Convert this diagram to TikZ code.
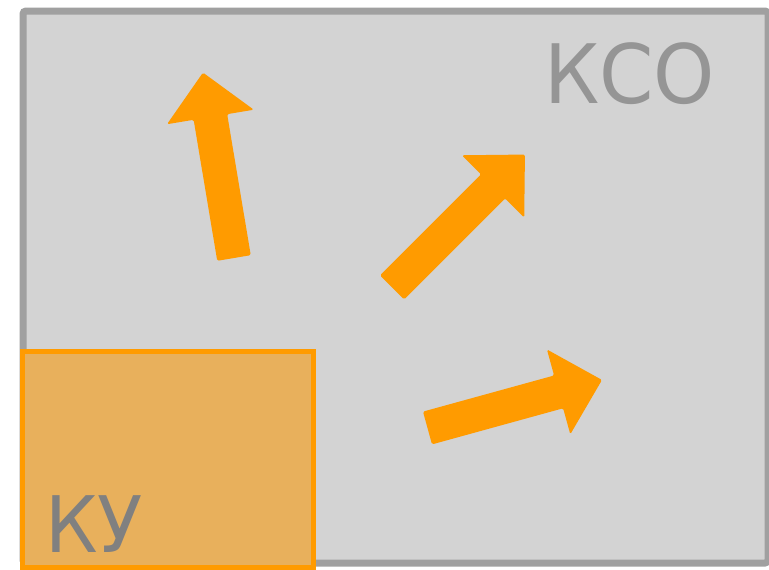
\documentclass[tikz,border=0pt]{standalone}
\usepackage{fontspec}
\newfontfamily\labelfont[FakeStretch=0.95]{DejaVu Sans}
\usetikzlibrary{positioning}
\definecolor{regionfill}{HTML}{D3D3D3}
\definecolor{regionline}{HTML}{A0A0A0}
\definecolor{labelgray}{HTML}{959595}
\definecolor{orangearrow}{HTML}{FF9B00}
\definecolor{kufill}{HTML}{E8B05C}

\begin{document}
\begin{tikzpicture}[%
        x=1pt, y=-1pt,
        region/.style={%
          draw=regionline,
          fill=regionfill,
          line width=7pt,
          rounded corners=3pt,
          inner sep=0pt,
          anchor=north west
        },
        subregion/.style={%
          draw=orangearrow,
          fill=kufill,
          line width=5pt,
          inner sep=0pt,
          anchor=north west
        },
        labeltext/.style={%
          font=\labelfont,
          inner sep=0pt,
          anchor=base west
        },
        fat arrow/.pic={%
          \fill[orangearrow, rounded corners=1.5pt] (0,-17) -- ({#1-45},-17)
            -- ({#1-45},-44) -- (#1,0) -- ({#1-45},44) -- ({#1-45},17)
            -- (0,17) -- cycle;
        }
      ]
      \useasboundingbox (0,0) rectangle (769,570);
      \node[region, minimum width=745pt, minimum height=552pt] (kso) at (19.5,7.5) {};
      \node[subregion, minimum width=291pt, minimum height=216pt] (ku) at (19.5,348.5) {};
      \node[labeltext, text=labelgray, font=\fontsize{82}{82}\labelfont] (ksolabel) at (544,103) {КСО};
      \node[labeltext, text=regionline!80!black, font=\fontsize{78}{78}\labelfont] (kulabel) at (45,552) {КУ};
      % arrows out of the small region
      \pic[rotate=99.5] (up) at (234,258) {fat arrow=188};
      \pic[rotate=45] (diag) at (392,287.5) {fat arrow=188};
      \pic[rotate=15.4] (right) at (427.5,428) {fat arrow=181};
  \end{tikzpicture}
\end{document}
